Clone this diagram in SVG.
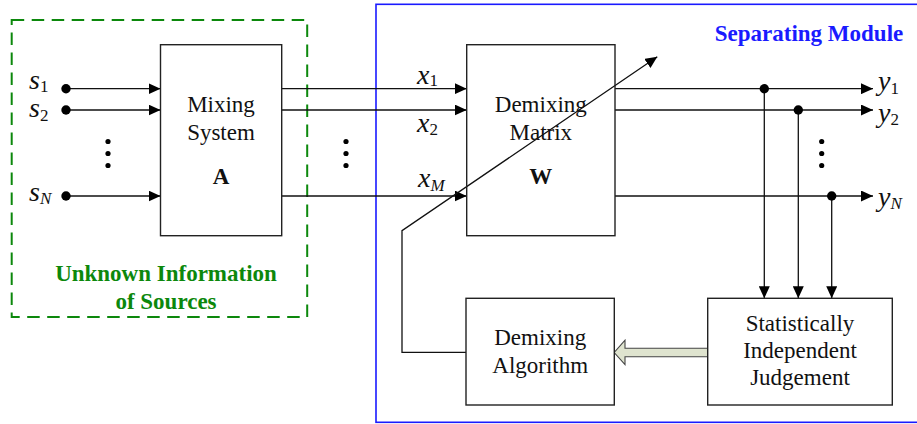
<svg xmlns="http://www.w3.org/2000/svg" width="917" height="424" viewBox="0 0 917 424">
  <style>
    text { font-family: 'Liberation Serif', 'DejaVu Serif', serif; }
    .box { fill: #ffffff; stroke: #222222; stroke-width: 1.4; }
    .wire { fill: none; stroke: #111111; stroke-width: 1.3; }
    .lbl { font-size: 23px; fill: #111111; text-anchor: middle; }
    .bold { font-weight: bold; }
    .math { font-style: italic; font-size: 28px; fill: #111111; }
    .sub { font-size: 17px; fill: #111111; }
    .subi { font-style: italic; font-size: 17px; fill: #111111; }
    .dot { fill: #000000; }
  </style>
  <defs>
    <marker id="arrow" viewBox="0 0 12 11" refX="12" refY="5.5" markerWidth="12" markerHeight="11" markerUnits="userSpaceOnUse" orient="auto">
      <path d="M0,0 L12,5.5 L0,11 Z" fill="#000000"/>
    </marker>
  </defs>

  <rect width="917" height="424" fill="#ffffff"/>

  <!-- region frames -->
  <g id="sources-region">
    <rect x="11.7" y="20" width="295.5" height="297" fill="none" stroke="#0c880c" stroke-width="2" stroke-dasharray="12.5 7.5"/>
    <text class="lbl bold" x="166" y="281" font-family="Liberation Serif, DejaVu Serif, serif" style="fill:#0c880c">Unknown Information</text>
    <text class="lbl bold" x="166" y="308.5" font-family="Liberation Serif, DejaVu Serif, serif" style="fill:#0c880c">of Sources</text>
  </g>
  <g id="separating-module">
    <rect x="376" y="4.3" width="560" height="418" fill="none" stroke="#1a1aff" stroke-width="1.6"/>
    <text class="lbl bold" x="809" y="40.5" font-family="Liberation Serif, DejaVu Serif, serif" style="fill:#1a1aff">Separating Module</text>
  </g>

  <!-- connectors -->
  <g id="connectors">
    <!-- sources into mixing system -->
    <line class="wire" x1="66" y1="88.7" x2="160.5" y2="88.7" marker-end="url(#arrow)"/>
    <line class="wire" x1="66" y1="110" x2="160.5" y2="110" marker-end="url(#arrow)"/>
    <line class="wire" x1="66" y1="196" x2="160.5" y2="196" marker-end="url(#arrow)"/>
    <circle class="dot" cx="66" cy="88.7" r="4.7"/>
    <circle class="dot" cx="66" cy="110" r="4.7"/>
    <circle class="dot" cx="66" cy="196" r="4.7"/>
    <circle class="dot" cx="108" cy="141.5" r="2.6"/>
    <circle class="dot" cx="108" cy="153.5" r="2.6"/>
    <circle class="dot" cx="108" cy="165.5" r="2.6"/>

    <!-- mixtures into demixing matrix -->
    <line class="wire" x1="281.7" y1="88.7" x2="466.7" y2="88.7" marker-end="url(#arrow)"/>
    <line class="wire" x1="281.7" y1="110" x2="466.7" y2="110" marker-end="url(#arrow)"/>
    <line class="wire" x1="281.7" y1="196" x2="466.7" y2="196" marker-end="url(#arrow)"/>
    <circle class="dot" cx="346" cy="141.5" r="2.6"/>
    <circle class="dot" cx="346" cy="153.5" r="2.6"/>
    <circle class="dot" cx="346" cy="165.5" r="2.6"/>

    <!-- outputs -->
    <line class="wire" x1="615" y1="88.7" x2="873" y2="88.7" marker-end="url(#arrow)"/>
    <line class="wire" x1="615" y1="110" x2="873" y2="110" marker-end="url(#arrow)"/>
    <line class="wire" x1="615" y1="196" x2="873" y2="196" marker-end="url(#arrow)"/>
    <circle class="dot" cx="821.7" cy="141.5" r="2.6"/>
    <circle class="dot" cx="821.7" cy="153.5" r="2.6"/>
    <circle class="dot" cx="821.7" cy="165.5" r="2.6"/>

    <!-- taps into the independence judgement -->
    <line class="wire" x1="764.3" y1="88.7" x2="764.3" y2="298.3" marker-end="url(#arrow)"/>
    <line class="wire" x1="798.3" y1="110" x2="798.3" y2="298.3" marker-end="url(#arrow)"/>
    <line class="wire" x1="831.7" y1="196" x2="831.7" y2="298.3" marker-end="url(#arrow)"/>
    <circle class="dot" cx="764.3" cy="88.7" r="4.7"/>
    <circle class="dot" cx="798.3" cy="110" r="4.7"/>
    <circle class="dot" cx="831.7" cy="196" r="4.7"/>

    <!-- feedback from the algorithm adjusting W -->
    <polyline class="wire" points="466,352.3 402,352.3 402,230.7 657.3,56.7" marker-end="url(#arrow)"/>

    <!-- hollow block arrow from judgement to algorithm -->
    <polygon points="707.7,348.3 625,348.3 625,340.2 614.2,352.5 625,364.6 625,356.7 707.7,356.7" fill="#dfe4cf" stroke="#444444" stroke-width="1.1"/>
  </g>

  <!-- blocks -->
  <g id="mixing-system">
    <rect class="box" x="160.5" y="44.7" width="121.2" height="191"/>
    <text class="lbl" x="221" y="112.3">Mixing</text>
    <text class="lbl" x="221" y="139.5">System</text>
    <text class="lbl bold" x="221" y="184">A</text>
  </g>
  <g id="demixing-matrix">
    <rect class="box" x="466.7" y="44.7" width="148.3" height="191" style="fill:none"/>
    <text class="lbl" x="540.8" y="112.3">Demixing</text>
    <text class="lbl" x="540.8" y="139.5">Matrix</text>
    <text class="lbl bold" x="540.8" y="184">W</text>
  </g>
  <g id="demixing-algorithm">
    <rect class="box" x="466" y="298.3" width="148.3" height="106.7"/>
    <text class="lbl" x="540.2" y="345">Demixing</text>
    <text class="lbl" x="540.2" y="372.7">Algorithm</text>
  </g>
  <g id="independence-judgement">
    <rect class="box" x="707.7" y="298.3" width="184.6" height="106.7"/>
    <text class="lbl" x="800" y="330.7">Statistically</text>
    <text class="lbl" x="800" y="358.3">Independent</text>
    <text class="lbl" x="800" y="385">Judgement</text>
  </g>

  <!-- signal labels -->
  <g id="signal-labels">
    <text x="29" y="89"><tspan class="math">s</tspan><tspan class="sub" dy="3">1</tspan></text>
    <text x="29" y="117"><tspan class="math">s</tspan><tspan class="sub" dy="4">2</tspan></text>
    <text x="29" y="200.5"><tspan class="math">s</tspan><tspan class="subi" dy="3.5">N</tspan></text>

    <text x="417" y="83.5"><tspan class="math">x</tspan><tspan class="sub" dy="2.5">1</tspan></text>
    <text x="417" y="131.7"><tspan class="math">x</tspan><tspan class="sub" dy="3">2</tspan></text>
    <text x="418" y="186.7"><tspan class="math">x</tspan><tspan class="subi" dy="4">M</tspan></text>

    <text x="878" y="90"><tspan class="math">y</tspan><tspan class="sub" dy="4">1</tspan></text>
    <text x="878" y="121.7"><tspan class="math">y</tspan><tspan class="sub" dy="3.5">2</tspan></text>
    <text x="878" y="206"><tspan class="math">y</tspan><tspan class="subi" dy="2.5">N</tspan></text>
  </g>
</svg>
